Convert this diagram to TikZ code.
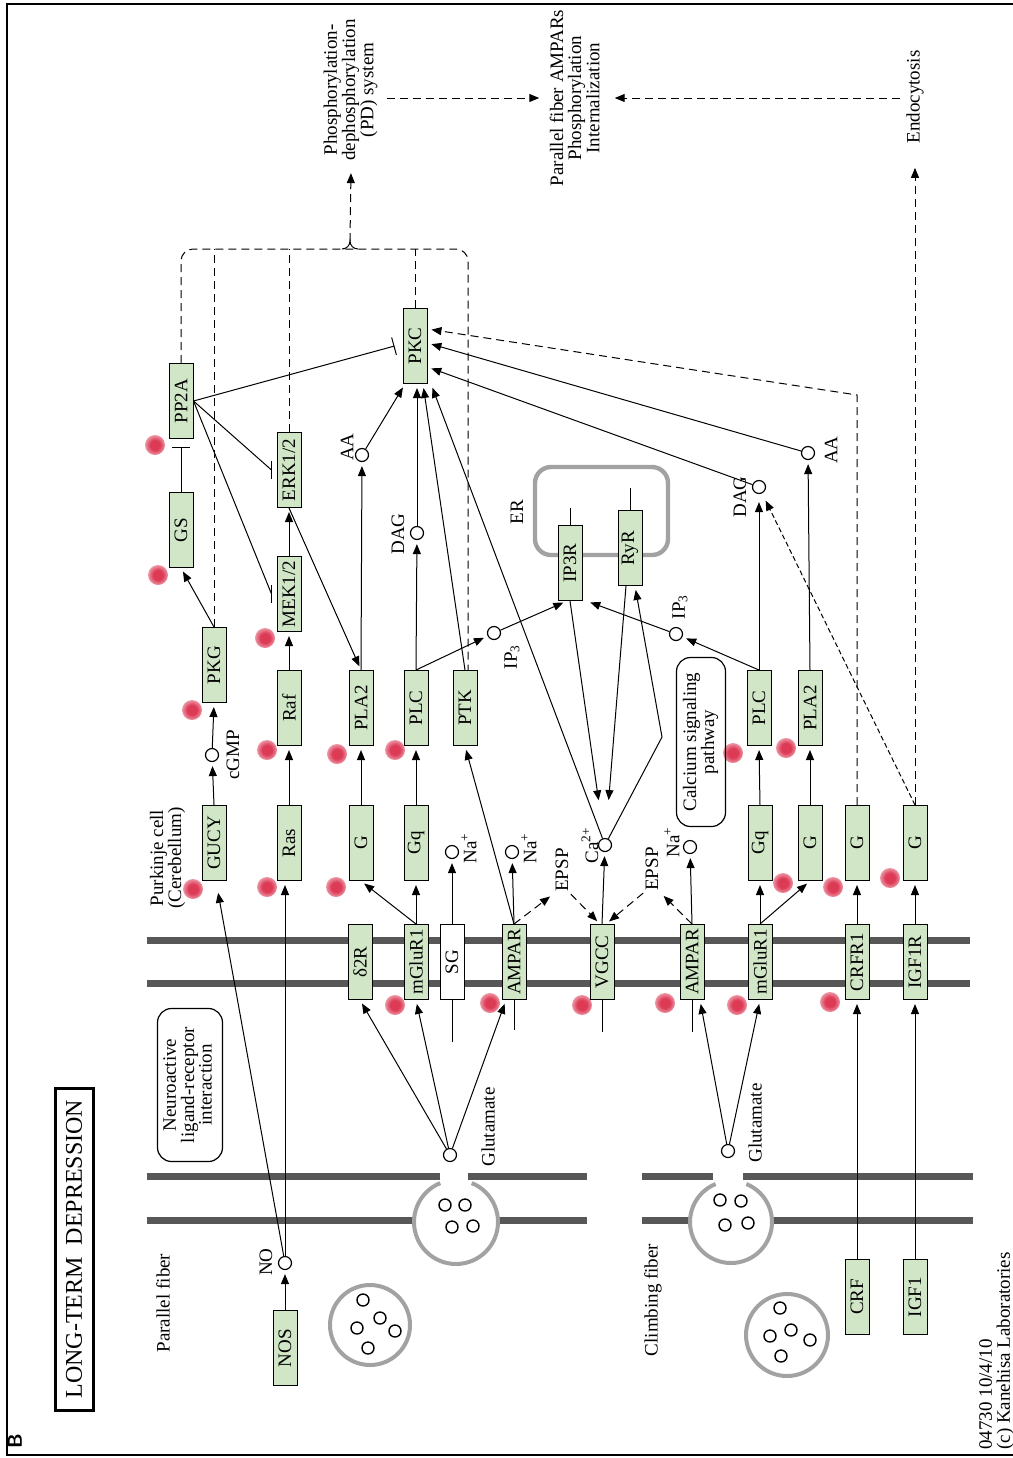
\documentclass[tikz,border=0pt]{standalone}
\usepackage{fontspec}
\setmainfont{Liberation Serif}
\usepackage{graphicx}
\usetikzlibrary{arrows.meta, calc}
\definecolor{keggVerde}{HTML}{D0E6C6}
\definecolor{membrana}{HTML}{575757}
\definecolor{vesicula}{HTML}{A2A2A2}
\definecolor{puntoRojo}{HTML}{DC3A55}
\pgfdeclareradialshading{puntoSombra}{\pgfpoint{0bp}{0bp}}{color(0bp)=(puntoRojo); color(12bp)=(puntoRojo); color(40bp)=(white); color(50bp)=(white)}
\newcommand{\vt}[1]{\rotatebox{90}{#1}}
\newcommand{\vtt}[1]{\rotatebox{90}{\begin{tabular}{@{}c@{}}#1\end{tabular}}}
\newcommand{\vtl}[1]{\rotatebox{90}{\begin{tabular}{@{}l@{}}#1\end{tabular}}}

\begin{document}
\begin{tikzpicture}[x=0.5pt, y=-0.5pt, font=\fontsize{9.5}{8.3}\selectfont,
        >={Triangle[length=5pt,width=4pt]},
        gen/.style={draw, fill=keggVerde, line width=0.5pt, minimum width=12pt, minimum height=37.5pt, inner sep=0pt},
        sgbox/.style={gen, fill=white},
        cpd/.style={circle, draw, fill=white, line width=0.6pt, minimum size=6.5pt, inner sep=0pt},
        txt/.style={inner sep=1pt},
        act/.style={->, line width=0.5pt, shorten >=2pt},
        dact/.style={act, dash pattern=on 4pt off 2.5pt},
        fact/.style={act, dash pattern=on 2.5pt off 1.5pt},
        inh/.style={-{Bar[width=9pt]}, line width=0.5pt},
        lnk/.style={line width=0.5pt},
        dlnk/.style={lnk, dash pattern=on 4pt off 2.5pt},
        mem/.style={draw=membrana, line width=3.5pt},
        ves/.style={draw=vesicula, line width=2pt},
        mol/.style={draw, line width=0.7pt},
        pathbox/.style={draw, rounded corners=7pt, line width=0.6pt, inner sep=0pt}]
    \useasboundingbox (0,0) rectangle (1013,1458);
    \draw[line width=1pt] (1013,3.5) -- (7,3.5) -- (7,1455) -- (1013,1455);

    % marcas rojas
    \foreach \p in {(155,445),(158,575),(192,710),(193,889),(265,638),(267,750),(267,887),
        (337,754),(395,750),(336,887),(395,1005),(490,1003),(582,1005),(665,1003),(737,1005),
        (830,1002),(783,883),(833,887),(890,878),(733,753),(786,748)}
        \shade[shading=puntoSombra] \p circle[radius=10];

    % membranas
    \draw[mem] (147,940) -- (970,940);
    \draw[mem] (147,983) -- (970,983);
    \draw[mem] (147,1176) -- (440,1176) (468,1176) -- (587,1176);
    \draw[mem] (147,1220) -- (415,1220) (497,1220) -- (587,1220);
    \draw[mem] (642,1176) -- (713,1176) (743,1176) -- (973,1176);
    \draw[mem] (642,1220) -- (691,1220) (771,1220) -- (973,1220);
    \draw[ves] (456,1222) ++(-68:42) arc[start angle=-68, end angle=248, radius=42];
    \draw[ves] (731,1222) ++(-68:41) arc[start angle=-68, end angle=248, radius=41];
    \draw[ves] (370,1325) circle[radius=40];
    \draw[ves] (787,1335) circle[radius=41];
    \foreach \p in {(445,1205),(465,1205),(452,1227),(473,1226),(720,1200),(741,1201),(725,1225),(748,1223),
        (363,1300),(380,1318),(357,1328),(395,1331),(368,1348),(780,1308),(791,1330),(770,1336),(810,1340),(781,1356)}
        \draw[mol] \p circle[radius=6];
    \draw[draw=vesicula, line width=2.2pt, rounded corners=8pt] (535,467) rectangle (668,555);

    % genes
    \node[gen] (PP2A) at (181,401) {\vt{PP2A}};
    \node[gen] (GS) at (181,530) {\vt{GS}};
    \node[gen] (PKG) at (214,665) {\vt{PKG}};
    \node[gen] (GUCY) at (214,843) {\vt{GUCY}};
    \node[gen] (ERK) at (289,470) {\vt{ERK1/2}};
    \node[gen] (MEK) at (289,594) {\vt{MEK1/2}};
    \node[gen] (Raf) at (289,708) {\vt{Raf}};
    \node[gen] (Ras) at (289,843) {\vt{Ras}};
    \node[gen] (PLAa) at (361,708) {\vt{PLA2}};
    \node[gen] (PLCa) at (416,708) {\vt{PLC}};
    \node[gen] (PTK) at (465,708) {\vt{PTK}};
    \node[gen] (Ga) at (361,843) {\vt{G}};
    \node[gen] (Gqa) at (416,843) {\vt{Gq}};
    \node[gen] (PKC) at (415,346) {\vt{PKC}};
    \node[gen] (IPR) at (570,563) {\vt{IP3R}};
    \node[gen] (RyR) at (630,548) {\vt{RyR}};
    \node[gen] (PLCb) at (759,708) {\vt{PLC}};
    \node[gen] (PLAb) at (810,708) {\vt{PLA2}};
    \node[gen] (Gqb) at (760,843) {\vt{Gq}};
    \node[gen] (Gb) at (810,843) {\vt{G}};
    \node[gen] (Gc) at (857,843) {\vt{G}};
    \node[gen] (Gd) at (915,843) {\vt{G}};
    \node[gen] (D2R) at (360,962) {\vt{δ2R}};
    \node[gen] (mGa) at (416,962) {\vt{mGluR1}};
    \node[sgbox] (SG) at (452,962) {\vt{SG}};
    \node[gen] (AMa) at (514,962) {\vt{AMPAR}};
    \node[gen] (VGCC) at (602,962) {\vt{VGCC}};
    \node[gen] (AMb) at (692,962) {\vt{AMPAR}};
    \node[gen] (mGb) at (760,962) {\vt{mGluR1}};
    \node[gen] (CRFR) at (857,962) {\vt{CRFR1}};
    \node[gen] (IGFR) at (915,962) {\vt{IGF1R}};
    \node[gen] (NOS) at (285,1348) {\vt{NOS}};
    \node[gen] (CRF) at (857,1297) {\vt{CRF}};
    \node[gen] (IGF) at (915,1297) {\vt{IGF1}};

    % compuestos
    \node[cpd] (cGMP) at (212,755) {};
    \node[cpd] (NO) at (285,1263) {};
    \node[cpd] (AAa) at (362,455) {};
    \node[cpd] (DAGa) at (417,533) {};
    \node[cpd] (IP3a) at (494,633) {};
    \node[cpd] (IP3b) at (676,634) {};
    \node[cpd] (DAGb) at (759,487) {};
    \node[cpd] (AAb) at (808,453) {};
    \node[cpd] (Ca) at (605,845) {};
    \node[cpd] (Naa) at (452,852) {};
    \node[cpd] (Nab) at (512,852) {};
    \node[cpd] (Nac) at (690,847) {};
    \node[cpd] (Glua) at (450,1155) {};
    \node[cpd] (Glub) at (728,1151) {};

    % textos
    \node[txt] (cGMPl) at (233,755) {\vt{cGMP}};
    \node[txt] (NOl) at (266,1262) {\vt{NO}};
    \node[txt] (AAal) at (347,447) {\vt{AA}};
    \node[txt] (DAGal) at (398,534) {\vt{DAG}};
    \node[txt] (IP3al) at (512,657) {\vt{IP\textsubscript{3}}};
    \node[txt] (IP3bl) at (680,607) {\vt{IP\textsubscript{3}}};
    \node[txt] (DAGbl) at (740,497) {\vt{DAG}};
    \node[txt] (AAbl) at (831,450) {\vt{AA}};
    \node[txt] (Cal) at (590,845) {\vt{Ca\textsuperscript{2+}}};
    \node[txt] (Naal) at (469,848) {\vt{Na\textsuperscript{+}}};
    \node[txt] (Nabl) at (529,848) {\vt{Na\textsuperscript{+}}};
    \node[txt] (Nacl) at (672,842) {\vt{Na\textsuperscript{+}}};
    \node[txt] (EPa) at (562,870) {\vt{EPSP}};
    \node[txt] (EPb) at (652,869) {\vt{EPSP}};
    \node[txt] (Gluatxt) at (488,1127) {\vt{Glutamate}};
    \node[txt] (Glubtxt) at (755,1123) {\vt{Glutamate}};
    \node[txt] (ERl) at (517,512) {\vt{ER}};
    \node[txt] (Purk) at (168,858) {\vtt{Purkinje cell\\(Cerebellum)}};
    \node[txt] (PFib) at (163,1303) {\vt{Parallel fiber}};
    \node[txt] (CFib) at (653,1300) {\vt{Climbing fiber}};
    \node[txt, inner sep=4pt] (PD) at (351,90) {\vtt{Phosphorylation-\\dephosphorylation\\(PD) system}};
    \node[txt, inner sep=3pt] (PFA) at (577,98) {\vtt{Parallel fiber AMPARs\\Phosphorylation\\Internalization}};
    \node[txt, inner sep=3pt] (Endo) at (915,97) {\vt{Endocytosis}};
    \node[draw, line width=1.5pt, minimum width=19pt, minimum height=161pt, inner sep=0pt,
        font=\fontsize{12}{14}\selectfont] (titulo) at (74,1249) {\vt{LONG-TERM\ \ DEPRESSION}};
    \node[font=\sffamily\bfseries] (letra) at (15,1441) {\vt{B}};
    \node[pathbox, minimum width=32.5pt, minimum height=76.5pt] (NLRI) at (190,1085) {\vtt{Neuroactive\\ligand-receptor\\interaction}};
    \node[pathbox, minimum width=24.5pt, minimum height=84.5pt] (CaSig) at (701,742) {\vtt{Calcium signaling\\pathway}};
    \node[txt, anchor=south] (copia) at (997,1452) {\vtl{04730 10/4/10\\(c) Kanehisa Laboratories}};

    % sistema PD
    \coordinate (brk) at (350,249);
    \draw[dlnk, rounded corners=6pt] (PP2A.north) |- (brk) -| ([xshift=1.5pt]PTK.north);
    \draw[dlnk] (PKG.north) -- (PKG.north |- brk);
    \draw[dlnk] (ERK.north) -- (ERK.north |- brk);
    \draw[dlnk] (PKC.north) -- (PKC.north |- brk);
    \draw[lnk] ([xshift=-4pt]brk) to[out=0,in=-90] ([yshift=4pt]brk) to[out=-90,in=180] ([xshift=4pt]brk);
    \draw[dact] ([yshift=4pt]brk) -- (PD.south);
    \draw[dact] (PD.east |- PFA.west) -- (PFA.west);
    \draw[dact] (Endo.west |- PFA.east) -- (PFA.east);
    \draw[dact, shorten >=9pt] (Gd.north) -- (Endo.south);

    % via fibra paralela
    \draw[act] (NOS.north) -- (NO);
    \draw[act] (NO) -- (NO |- Ras.south);
    \draw[act, shorten >=6pt] (NO) -- ([xshift=1pt]GUCY.south);
    \draw[act] (GUCY.north) -- (cGMP);
    \draw[act] (cGMP) -- (PKG.south);
    \draw[act] (PKG.north) -- (GS.south);
    \draw[inh, shorten >=4pt] (GS.north) -- (PP2A.south);
    \draw[inh] (PP2A.east) -- ([xshift=-4pt]PKC.west);
    \draw[lnk] (PP2A.east) -- ([xshift=-2.5pt]ERK.west);
    \draw[lnk] ([xshift=-2.5pt]ERK.west) ++(0,-9) -- ++(0,18);
    \draw[lnk] (PP2A.east) -- ([xshift=-2.5pt]MEK.west);
    \draw[lnk] ([xshift=-2.5pt]MEK.west) ++(0,-9) -- ++(0,18);
    \draw[act] (Ras.north) -- (Raf.south);
    \draw[act] (Raf.north) -- (MEK.south);
    \draw[act] (MEK.north) -- (ERK.south);
    \draw[act] (ERK.south) -- (PLAa.north);
    \draw[act] (Glua) -- (D2R.south);
    \draw[act] (Glua) -- (mGa.south);
    \draw[act] (Glua) -- ([xshift=-4pt]AMa.south);
    \draw[act] (mGa.north) -- (Gqa.south);
    \draw[act] (mGa.north) -- (Ga.south);
    \draw[act] (Ga.north) -- (PLAa.south);
    \draw[act] (Gqa.north) -- (PLCa.south);
    \draw[act] (PLAa.north) -- (AAa);
    \draw[act] (PLCa.north) -- (DAGa);
    \draw[act] (PLCa.north) -- (IP3a);
    \draw[act] (SG.north) -- (Naa);
    \draw[act] (AMa.north) -- (Nab);
    \draw[act] (AMa.north) -- (PTK.south);
    \draw[dact] (AMa.north) -- (EPa.south west);
    \draw[dact] (EPa.south east) -- ([xshift=-1pt]VGCC.north);
    \draw[lnk] (SG.south) -- ++(0,42);
    \draw[lnk] (AMa.south) -- ++(0,30);
    \draw[lnk] (VGCC.south) -- ++(0,32);
    \draw[lnk] (AMb.south) -- ++(0,32);

    % PKC
    \draw[act] (AAa) -- ([xshift=-5pt]PKC.south);
    \draw[act] (DAGa) -- (DAGa |- PKC.south);
    \draw[act] (PTK.north) -- ([xshift=4pt]PKC.south);
    \draw[act] (Ca) -- ([xshift=8pt]PKC.south);
    \draw[act] (AAb) -- ([yshift=1.5pt]PKC.east);
    \draw[act] (DAGb) -- ([yshift=-10.5pt]PKC.east);
    \coordinate (crfK) at (857,395);
    \draw[dact] (Gc.north) -- (Gc.north |- crfK) -- ([yshift=8.5pt]PKC.east);

    % calcio
    \draw[act] (VGCC.north) -- (Ca);
    \draw[act] (IP3a) -- ([xshift=-1.5pt]IPR.south);
    \draw[act] (IP3b) -- ([xshift=2pt]IPR.south east);
    \draw[lnk] (IPR.north) -- ++(0,-17);
    \draw[lnk] (RyR.north) -- ++(0,-22);
    \draw[act, shorten >=19pt] (IPR.south) -- (Ca);
    \draw[act, shorten >=19pt] ([xshift=-2pt]RyR.south) -- (Ca);
    \coordinate (ryK) at (662,737);
    \draw[act] (Ca) -- (ryK) -- ([xshift=2.5pt]RyR.south);

    % via fibra trepadora
    \draw[act] (Glub) -- ([xshift=4pt]AMb.south);
    \draw[act] (Glub) -- (mGb.south);
    \draw[act] (AMb.north) -- (Nac);
    \draw[dact] (AMb.north) -- (EPb.south east);
    \draw[dact] (EPb.south west) -- ([xshift=2pt]VGCC.north);
    \draw[act] (mGb.north) -- (Gqb.south);
    \draw[act] (mGb.north) -- (Gb.south);
    \draw[act] (Gqb.north) -- (PLCb.south);
    \draw[act] (Gb.north) -- (PLAb.south);
    \draw[act] (PLCb.north) -- (IP3b);
    \draw[act, shorten >=4pt] (PLCb.north) -- (DAGb);
    \draw[act] (PLAb.north) -- (AAb);
    \draw[fact, shorten >=4pt] (Gd.north) -- (DAGb);
    \draw[act] (CRF.north) -- (CRFR.south);
    \draw[act] (IGF.north) -- (IGFR.south);
    \draw[act] (CRFR.north) -- (Gc.south);
    \draw[act] (IGFR.north) -- (Gd.south);
\end{tikzpicture}
\end{document}
